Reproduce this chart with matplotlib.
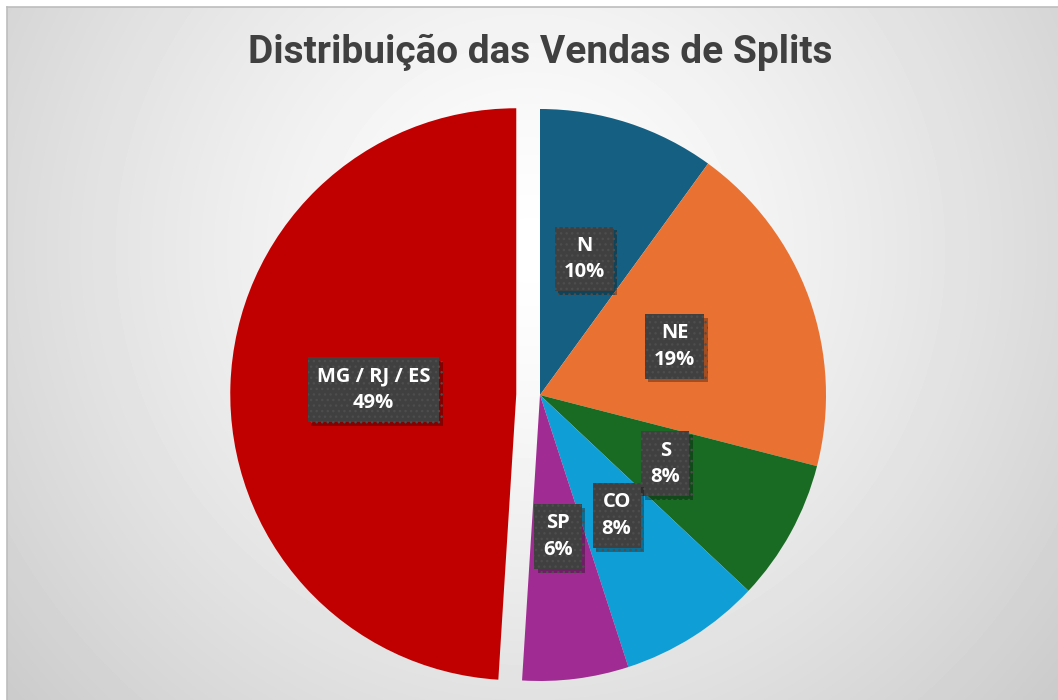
import numpy as np
import matplotlib.pyplot as plt
from matplotlib import patheffects as pe

regioes = ['N', 'NE', 'S', 'CO', 'SP', 'MG / RJ / ES']
percentuais = [10, 19, 8, 8, 6, 49]
cores = ['#156082', '#E97132', '#196B24', '#0F9ED5', '#A02B93', '#C00000']
destaque = [0, 0, 0, 0, 0, 0.083]

W, H = 1058, 700
fig = plt.figure(figsize=(W / 100, H / 100), dpi=100)

# fundo com degradê radial
bg = fig.add_axes([7 / W, 0, 1 - 7 / W, 1 - 7 / H])
yy, xx = np.mgrid[0:693, 0:1051]
d = np.hypot(xx - 523, yy - 243) / 730
tom = 1 - 0.22 * np.clip(d, 0, 1) ** 1.3
bg.imshow(tom, cmap='gray', vmin=0, vmax=1, aspect='auto', interpolation='bilinear')
bg.set_xticks([])
bg.set_yticks([])
for lado in ['right', 'bottom']:
    bg.spines[lado].set_visible(False)
for lado in ['top', 'left']:
    bg.spines[lado].set_color('#bdbdbd')
    bg.spines[lado].set_linewidth(1.2)

# pizza
k = 1.25
r_px = 286
cx, cy = 540, H - 395
lado_px = 2 * r_px * k
ax = fig.add_axes([(cx - lado_px / 2) / W, (cy - lado_px / 2) / H, lado_px / W, lado_px / H])
ax.set_xlim(-k, k)
ax.set_ylim(-k, k)
ax.set_aspect('equal')
ax.axis('off')

rotulos = [f'{r}\n{p}%' for r, p in zip(regioes, percentuais)]
fatias, textos = ax.pie(percentuais, colors=cores, startangle=90, counterclock=False,
                        explode=destaque, labels=rotulos, labeldistance=0.5,
                        wedgeprops=dict(linewidth=0),
                        textprops=dict(color='white', fontsize=14.5, fontweight='bold',
                                       family=['Open Sans', 'DejaVu Sans'], linespacing=1.45))

for t in textos:
    t.set_ha('center')
    t.set_va('center')
    t.set_multialignment('center')
    t.set_bbox(dict(boxstyle='square,pad=0.45', facecolor='#404040', edgecolor='#4d4d4d',
                    linewidth=0, hatch='...'))
    t.get_bbox_patch().set_path_effects([
        pe.SimplePatchShadow(offset=(2.5, -2.5), shadow_rgbFace='black', alpha=0.3),
        pe.Normal()])

fig.text(540 / W, 1 - 52 / H, 'Distribuição das Vendas de Splits', ha='center', va='center',
         fontsize=28, fontweight='bold', color='#404040',
         family=['Liberation Sans Narrow', 'Roboto', 'DejaVu Sans'])

fig.savefig('out.png', dpi=100)
